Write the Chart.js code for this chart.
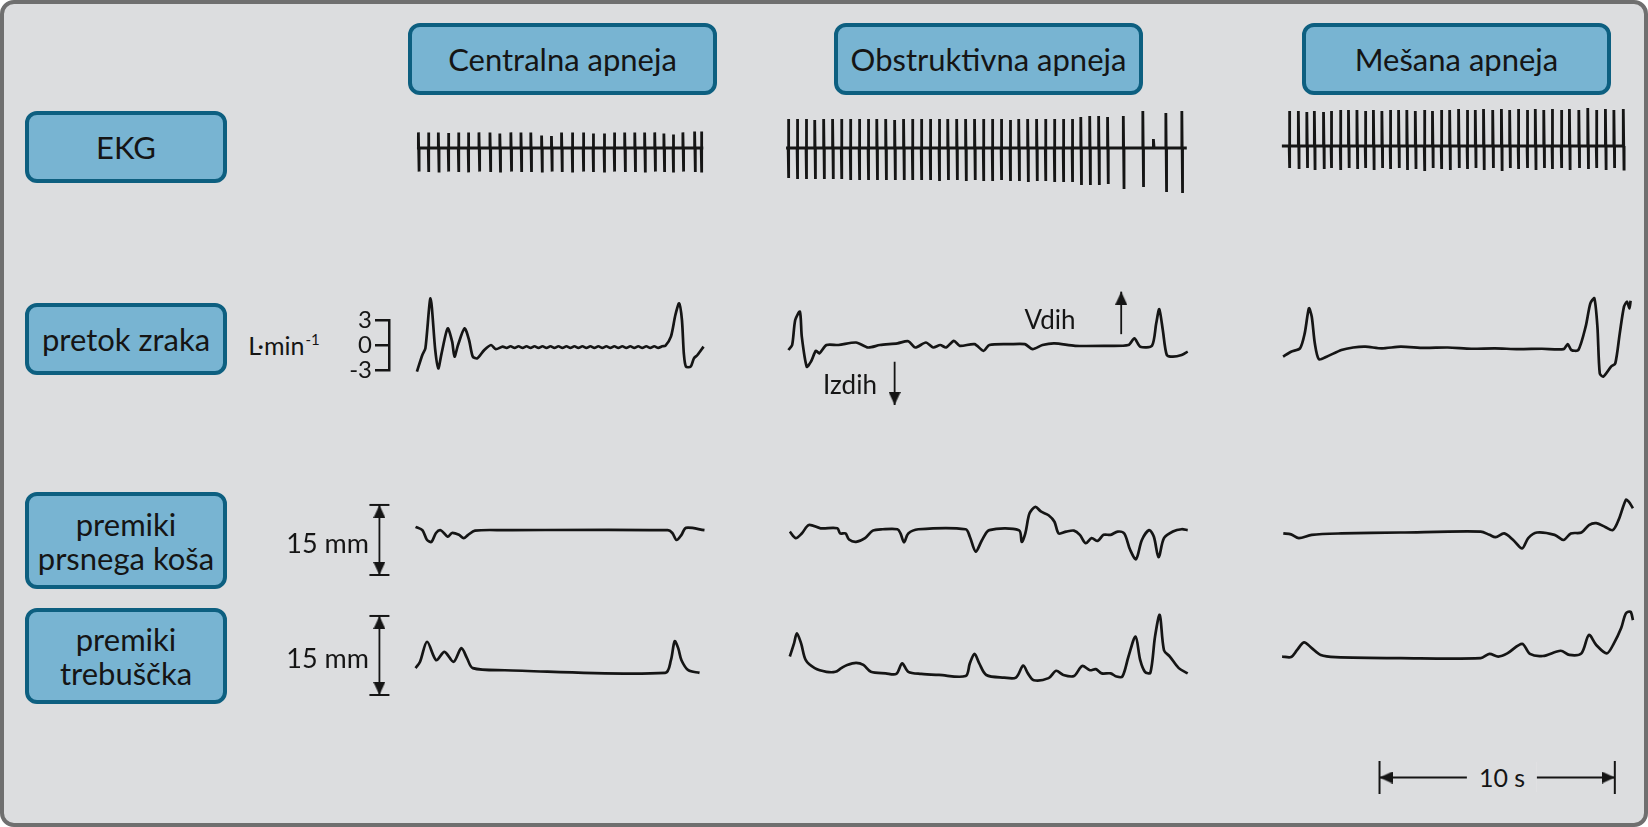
<!DOCTYPE html>
<html>
<head>
<meta charset="utf-8">
<script src="https://cdn.jsdelivr.net/npm/chart.js@4.4.0/dist/chart.umd.min.js"></script>
<style>
    html, body { margin: 0; padding: 0; background: #fff; }
    #stage { position: relative; width: 1648px; height: 827px; overflow: hidden; font-family: Lato, sans-serif; color: #151515; }
    #frame { position: absolute; left: 0; top: 0; width: 1648px; height: 827px; box-sizing: border-box;
             border: 4px solid #6f6f6f; border-radius: 14px; background: #dcdddf; }
    .box { position: absolute; box-sizing: border-box; border: 4px solid #0d5f80; border-radius: 12px;
           background: #78b4d2; display: flex; align-items: center; justify-content: center;
           text-align: center; font-size: 31px; line-height: 34px; }
    .lbl { position: absolute; font-size: 26px; white-space: nowrap; transform: translate(-50%, -50%); }
    .lblR { position: absolute; font-size: 26px; white-space: nowrap; transform: translate(-100%, -50%); }
    canvas { position: absolute; }
</style>
</head>
<body>
<div id="stage">
    <div id="frame"></div>
</div>
<script>
// naslovi
const columnTitles = ['Centralna apneja', 'Obstruktivna apneja', 'Mešana apneja'];
const rowTitles = ['EKG', 'pretok zraka', 'premiki<br>prsnega koša', 'premiki<br>trebuščka'];
const flowTicks = [-3, 0, 3];

// EKG: [čas s, vrh mV, dno mV]
const ekgSpanC = [0, 12.2];
const ekgBeatsC = [[0.06,0.78,-1.18],[0.48,0.78,-1.2],[0.91,0.78,-1.22],[1.33,0.75,-1.18],[1.76,0.78,-1.2],
    [2.18,0.78,-1.22],[2.64,0.78,-1.18],[3.11,0.78,-1.2],[3.53,0.72,-1.22],[4.0,0.78,-1.18],[4.43,0.78,-1.2],
    [4.85,0.78,-1.2],[5.31,0.62,-1.22],[5.73,0.6,-1.18],[6.16,0.78,-1.2],[6.61,0.78,-1.22],[7.08,0.78,-1.18],
    [7.5,0.72,-1.2],[7.97,0.72,-1.22],[8.4,0.78,-1.18],[8.85,0.78,-1.2],[9.28,0.78,-1.2],[9.7,0.78,-1.22],
    [10.13,0.78,-1.18],[10.52,0.72,-1.2],[10.91,0.68,-1.22],[11.33,0.78,-1.18],[11.83,0.82,-1.2],[12.11,0.82,-1.22]];

const ekgSpanO = [0, 17.05];
const ekgBeatsO = [[0.09,1.45,-1.5],[0.47,1.45,-1.55],[0.85,1.45,-1.55],[1.22,1.4,-1.55],[1.6,1.45,-1.55],
    [1.98,1.45,-1.55],[2.35,1.45,-1.55],[2.73,1.45,-1.6],[3.11,1.45,-1.6],[3.49,1.45,-1.6],[3.86,1.45,-1.6],
    [4.24,1.45,-1.6],[4.62,1.4,-1.6],[5.0,1.45,-1.6],[5.37,1.45,-1.6],[5.75,1.45,-1.6],[6.13,1.45,-1.6],
    [6.51,1.45,-1.65],[6.88,1.45,-1.6],[7.26,1.45,-1.6],[7.64,1.45,-1.65],[8.02,1.45,-1.6],[8.39,1.45,-1.65],
    [8.77,1.45,-1.65],[9.15,1.45,-1.6],[9.53,1.4,-1.65],[9.9,1.45,-1.65],[10.28,1.45,-1.7],[10.66,1.45,-1.65],
    [11.03,1.45,-1.65],[11.41,1.45,-1.7],[11.79,1.45,-1.7],[12.17,1.45,-1.7],[12.54,1.55,-1.85],[12.92,1.6,-1.85],
    [13.3,1.6,-1.85],[13.68,1.55,-1.8],[14.35,1.6,-2.05],[15.18,1.85,-1.95],[15.63,0.45,0],[16.16,1.75,-2.2],
    [16.84,1.85,-2.25]];

const ekgSpanM = [-0.05, 14.5];
const ekgBeatsM = [[0.26,1.75,-1.1],[0.65,1.75,-1.15],[1.01,1.7,-1.1],[1.33,1.75,-1.2],[1.72,1.7,-1.15],
    [2.04,1.75,-1.1],[2.43,1.8,-1.2],[2.78,1.8,-1.1],[3.14,1.8,-1.15],[3.49,1.75,-1.1],[3.84,1.8,-1.2],
    [4.2,1.75,-1.1],[4.55,1.8,-1.15],[4.91,1.8,-1.1],[5.26,1.8,-1.2],[5.62,1.75,-1.15],[6.0,1.8,-1.25],
    [6.35,1.75,-1.1],[6.72,1.8,-1.15],[7.08,1.8,-1.2],[7.46,1.85,-1.1],[7.82,1.8,-1.15],[8.17,1.8,-1.1],
    [8.52,1.85,-1.2],[8.91,1.8,-1.1],[9.28,1.85,-1.25],[9.63,1.8,-1.1],[9.99,1.85,-1.15],[10.37,1.8,-1.1],
    [10.72,1.85,-1.2],[11.08,1.8,-1.1],[11.43,1.85,-1.15],[11.82,1.8,-1.1],[12.17,1.85,-1.2],[12.57,1.8,-1.1],
    [12.95,1.9,-1.15],[13.31,1.8,-1.1],[13.7,1.85,-1.2],[14.06,1.8,-1.1],[14.46,1.85,-1.15]];

// pretok zraka [s, L/min]
const flowC = [[0,-3.2],[0.23,-1.2],[0.36,-0.4],[0.58,5.6],[0.78,-0.6],[0.91,-2.8],[1.05,-1.0],[1.31,2.0],
    [1.5,0.4],[1.6,-1.4],[1.75,0.0],[2.03,2.0],[2.22,0.6],[2.38,-1.4],[2.57,-1.6],[2.87,-0.6],[3.16,0.0],
    [3.36,-0.5],[3.65,-0.2],[3.82,-0.35],[3.99,-0.15],[4.16,-0.35],[4.33,-0.15],[4.5,-0.35],[4.67,-0.15],[4.84,-0.35],
    [5.01,-0.15],[5.18,-0.35],[5.35,-0.15],[5.52,-0.35],[5.69,-0.15],[5.86,-0.35],[6.03,-0.15],[6.2,-0.35],[6.37,-0.15],
    [6.54,-0.35],[6.71,-0.15],[6.88,-0.35],[7.05,-0.15],[7.22,-0.35],[7.39,-0.15],[7.56,-0.35],[7.73,-0.15],[7.9,-0.35],
    [8.07,-0.15],[8.24,-0.35],[8.41,-0.15],[8.58,-0.35],[8.75,-0.15],[8.92,-0.35],[9.09,-0.15],[9.26,-0.35],[9.43,-0.15],
    [9.6,-0.35],[9.77,-0.15],[9.94,-0.35],[10.11,-0.15],[10.28,-0.35],[10.45,-0.15],[10.58,-0.1],[10.82,1.0],
    [11.01,3.6],[11.17,5.0],[11.29,3.0],[11.37,-1.0],[11.46,-2.6],[11.66,-2.6],[11.8,-1.6],[11.95,-1.2],[12.21,-0.2]];
const flowO = [[0.1,-0.6],[0.26,0.0],[0.39,3.0],[0.59,4.0],[0.67,1.0],[0.88,-2.6],[1.06,-2.0],[1.27,-0.7],
    [1.42,-1.0],[1.72,0.0],[2.23,0.0],[2.98,0.3],[3.49,-0.3],[3.99,0.0],[4.74,0.2],[5.2,0.45],[5.5,-0.3],
    [5.95,0.3],[6.26,-0.3],[6.56,0.0],[6.81,-0.3],[7.14,0.5],[7.39,-0.1],[8.02,0.1],[8.4,-0.7],[8.65,0.0],
    [9.53,0.1],[10.16,0.1],[10.49,-0.5],[10.91,0.0],[11.42,0.2],[12.3,-0.1],[13.56,-0.1],[14.57,0.0],[14.82,0.8],
    [15.07,-0.2],[15.57,-0.1],[15.75,2.6],[15.88,4.3],[16.03,1.8],[16.2,-1.2],[16.46,-1.4],[16.83,-1.2],[17.09,-0.8]];
const flowM = [[0,-1.4],[0.34,-0.8],[0.72,-0.4],[0.92,1.4],[1.1,4.4],[1.22,3.4],[1.35,0.2],[1.52,-1.7],
    [1.85,-1.4],[2.48,-0.6],[2.98,-0.3],[3.5,-0.2],[4.2,-0.4],[5.0,-0.2],[6.0,-0.35],[7.0,-0.3],[8.0,-0.45],
    [9.0,-0.4],[10.0,-0.5],[11.0,-0.45],[11.92,-0.5],[12.1,0.1],[12.25,-0.6],[12.55,-0.6],[12.86,2.2],
    [13.06,5.0],[13.23,5.6],[13.36,2.2],[13.46,-3.4],[13.61,-3.8],[13.94,-2.6],[14.12,-2.2],[14.31,1.4],
    [14.49,4.6],[14.62,5.2],[14.72,4.4],[14.77,5.3]];

// premiki prsnega koša [s, mm]
const chestC = [[-0.06,10.3],[0.23,9.6],[0.43,7.5],[0.62,7.1],[0.81,9.0],[1.01,9.6],[1.31,8.2],[1.49,9.0],
    [1.79,8.6],[1.99,7.9],[2.18,8.6],[2.47,9.5],[3.74,9.6],[10.68,9.6],[10.88,9.0],[11.06,7.5],[11.27,8.6],
    [11.46,10.1],[12.25,9.6]];
const chestO = [[0.16,9.3],[0.41,7.9],[0.67,8.9],[0.97,10.7],[1.47,10.0],[2.18,10.0],[2.3,8.9],[2.53,8.9],
    [2.68,7.6],[2.98,7.1],[3.36,7.9],[3.69,9.5],[4.11,9.8],[4.74,9.8],[4.87,8.9],[5.02,7.0],[5.2,8.9],[5.63,9.8],
    [7.64,9.8],[7.82,8.2],[8.07,5.0],[8.34,7.5],[8.65,9.6],[9.91,9.6],[10.03,7.1],[10.18,8.9],[10.36,13.2],
    [10.61,14.6],[10.84,13.6],[11.17,12.8],[11.42,11.4],[11.6,8.9],[11.92,9.3],[12.25,9.5],[12.5,8.6],[12.75,6.8],
    [13.0,7.9],[13.26,7.3],[13.51,8.6],[13.81,8.6],[14.11,9.3],[14.39,8.9],[14.64,5.4],[14.89,3.4],[15.14,7.5],
    [15.45,9.6],[15.65,8.2],[15.85,3.8],[16.08,7.9],[16.46,9.3],[16.83,9.8],[17.09,9.6]];
const chestM = [[0.01,8.9],[0.34,8.7],[0.67,7.9],[1.22,8.6],[2.48,8.9],[5.0,9.1],[8.4,9.3],[8.77,8.6],
    [9.03,8.1],[9.4,8.9],[9.78,7.5],[10.16,5.7],[10.42,7.9],[10.79,9.1],[11.54,8.6],[11.92,7.5],[12.23,8.9],
    [12.68,9.1],[13.0,10.7],[13.31,11.1],[13.69,10.3],[14.01,9.6],[14.26,11.8],[14.57,16.1],[14.69,15.7],[14.87,14.3]];

// premiki trebuščka [s, mm]
const bellyC = [[-0.06,5.1],[0.13,6.3],[0.43,10.1],[0.82,6.6],[1.17,8.2],[1.56,6.3],[1.89,8.9],[2.13,7.0],
    [2.38,5.1],[3.74,4.7],[10.58,4.2],[10.82,6.6],[10.98,10.2],[11.13,8.9],[11.27,6.6],[11.56,4.7],[12.04,4.2]];
const bellyO = [[0.16,7.3],[0.34,9.8],[0.46,11.7],[0.64,9.8],[0.84,6.6],[1.22,5.1],[1.72,4.4],[2.1,4.4],
    [2.35,5.1],[2.6,5.7],[2.98,6.1],[3.29,5.7],[3.61,4.4],[4.24,4.1],[4.69,4.0],[4.94,6.0],[5.2,4.4],[5.75,4.0],
    [6.51,3.8],[7.64,3.6],[7.82,6.0],[8.02,7.8],[8.22,6.0],[8.52,3.8],[9.28,3.3],[9.78,3.3],[10.09,5.6],
    [10.29,4.1],[10.54,2.8],[11.17,3.2],[11.49,4.6],[11.8,3.8],[12.25,3.6],[12.6,5.5],[12.93,4.7],[13.18,4.9],
    [13.43,4.1],[13.81,4.1],[14.06,3.5],[14.31,3.5],[14.57,7.3],[14.87,11.1],[15.07,6.6],[15.27,4.4],[15.5,4.2],
    [15.7,11.1],[15.9,15.2],[16.08,8.5],[16.33,7.3],[16.71,5.1],[17.09,4.1]];
const bellyM = [[-0.04,7.3],[0.34,7.2],[0.59,8.5],[0.89,10.0],[1.22,8.9],[1.6,7.6],[2.23,7.2],[5.0,7.0],
    [8.4,7.0],[8.77,7.8],[9.15,7.3],[9.53,7.9],[10.16,9.7],[10.49,7.8],[11.04,7.4],[11.8,8.4],[12.17,7.6],
    [12.68,7.9],[13.0,11.4],[13.31,9.5],[13.76,7.9],[14.06,9.8],[14.37,12.7],[14.57,15.5],[14.77,15.8],[14.87,14.2]];

// merila
const mmBar = [0, 15];       // mm
const timeBar = [4.1, 14.1]; // s (10 s)
const vdihArrow = [1.3, 6.4];
const izdihArrow = [-2.0, -7.2];

const INK = '#151515';
const PX = 23.5;   // px na sekundo
const AXW = 49;
const stage = document.getElementById('stage');
Chart.defaults.font.family = 'Lato';

const cols = {
    C: { x0: 417, tmin: -2.3, tmax: 12.4 },
    O: { x0: 786, tmin: -0.3, tmax: 17.4 },
    M: { x0: 1283, tmin: -0.3, tmax: 15.0 }
};
const rows = {
    ekg:   { top: 95,  height: 110, min: -2.85, max: 2.65 },
    flow:  { top: 280, height: 135, min: -8.4, max: 7.8 },
    chest: { top: 490, height: 95,  min: -2.14, max: 18.2 },
    belly: { top: 600, height: 105, min: -1.9, max: 18.03 },
    bar:   { top: 755, height: 45,  min: -1, max: 1 }
};

// glave puščic (konica v središču)
function arrowHead(len, half) {
    const c = document.createElement('canvas');
    c.width = half * 2; c.height = len * 2;
    const g = c.getContext('2d');
    g.fillStyle = INK;
    g.beginPath(); g.moveTo(half, len); g.lineTo(0, len * 2); g.lineTo(half * 2, len * 2); g.closePath(); g.fill();
    return c;
}
const head = arrowHead(13, 6);

function box(html, x, y, w, h) {
    const d = document.createElement('div');
    d.className = 'box';
    d.style.cssText = `left:${x}px;top:${y}px;width:${w}px;height:${h}px;`;
    d.innerHTML = html;
    stage.appendChild(d);
}
function label(html, x, y, cls, size) {
    const d = document.createElement('div');
    d.className = cls || 'lbl';
    d.style.left = x + 'px'; d.style.top = y + 'px';
    if (size) d.style.fontSize = size + 'px';
    d.innerHTML = html;
    stage.appendChild(d);
    return d;
}

function trace(points, tension) {
    return { data: points.map(p => ({ x: p[0], y: p[1] })), borderColor: INK, borderWidth: 2.7,
             pointRadius: 0, tension: tension, clip: false, fill: false };
}
function ekg(span, beats) {
    const pts = [{ x: span[0], y: 0 }];
    beats.forEach(b => {
        pts.push({ x: b[0], y: 0 }, { x: b[0], y: b[1] }, { x: b[0] + 0.03, y: b[2] }, { x: b[0] + 0.03, y: 0 });
    });
    pts.push({ x: span[1], y: 0 });
    return { data: pts, borderColor: INK, borderWidth: 2.8, pointRadius: 0, tension: 0, clip: false };
}
function vArrow(x, ys, rot) {
    return { data: ys.map(y => ({ x, y })), borderColor: INK, borderWidth: 1.8, pointStyle: head,
             pointRadius: [0, 5], pointRotation: rot, clip: false };
}
function mmScale(x) {
    const pts = mmBar.map(y => ({ x, y }));
    return [
        { data: pts, borderColor: INK, borderWidth: 1.8, pointStyle: head, pointRadius: 5,
          pointRotation: [180, 0], clip: false },
        { data: pts, showLine: false, pointStyle: 'line', pointRadius: 10, pointBorderColor: INK,
          pointBorderWidth: 2, clip: false }
    ];
}

function plot(colKey, rowKey, datasets, over) {
    const c = cols[colKey];
    const r = Object.assign({}, rows[rowKey], over || {});
    const tmin = r.tmin !== undefined ? r.tmin : c.tmin;
    const axw = r.axis ? AXW : 0;
    const left = Math.round(c.x0 + tmin * PX - axw);
    const width = Math.round((c.tmax - tmin) * PX + axw);
    const cv = document.createElement('canvas');
    cv.width = width; cv.height = r.height;
    cv.style.left = left + 'px'; cv.style.top = r.top + 'px';
    stage.appendChild(cv);

    const yScale = r.axis ? {
        display: true, position: 'left', min: r.min, max: r.max,
        afterFit: s => { s.width = AXW; },
        afterBuildTicks: s => { s.ticks = flowTicks.map(v => ({ value: v })); },
        ticks: { color: INK, font: { size: 24 }, padding: 3, autoSkip: false, callback: v => String(v) },
        grid: { drawOnChartArea: false, drawTicks: true, tickLength: 14, color: INK, lineWidth: 2.5 },
        border: { display: true, color: INK, width: 2.5 }
    } : { display: false, min: r.min, max: r.max };

    new Chart(cv.getContext('2d'), {
        type: 'line',
        data: { datasets },
        options: {
            responsive: false,
            animation: false,
            devicePixelRatio: 1,
            events: [],
            layout: { autoPadding: false, padding: { top: r.padTop || 0, bottom: r.padBottom || 0, left: 0, right: 0 } },
            plugins: { legend: { display: false }, tooltip: { enabled: false } },
            scales: {
                x: { type: 'linear', display: false, min: tmin, max: c.tmax },
                y: yScale
            }
        }
    });
}

// okvirji z napisi
box(columnTitles[0], 408, 23, 309, 72);
box(columnTitles[1], 834, 23, 309, 72);
box(columnTitles[2], 1302, 23, 309, 72);
box(rowTitles[0], 25, 111, 202, 72);
box(rowTitles[1], 25, 303, 202, 72);
box(rowTitles[2], 25, 492, 202, 97);
box(rowTitles[3], 25, 608, 202, 96);

// EKG
plot('C', 'ekg', [ekg(ekgSpanC, ekgBeatsC)]);
plot('O', 'ekg', [ekg(ekgSpanO, ekgBeatsO)]);
plot('M', 'ekg', [ekg(ekgSpanM, ekgBeatsM)], { min: -2.95, max: 2.55 });

// pretok zraka
plot('C', 'flow', [trace(flowC, 0.25)], { min: -3, max: 3, padTop: 40, padBottom: 45, axis: true, tmin: -1.19 });
plot('O', 'flow', [trace(flowO, 0.25), vArrow(14.26, vdihArrow, [0, 0]), vArrow(4.62, izdihArrow, [0, 180])]);
plot('M', 'flow', [trace(flowM, 0.25)]);
label('L·min<sup style="font-size:15px;vertical-align:10px;margin-left:1px">-1</sup>', 284, 345, 'lbl', 25);
label('Vdih', 1050, 319);
label('Izdih', 850, 384);

// premiki
plot('C', 'chest', [trace(chestC, 0.3), ...mmScale(-1.6)]);
plot('O', 'chest', [trace(chestO, 0.3)]);
plot('M', 'chest', [trace(chestM, 0.3)]);
plot('C', 'belly', [trace(bellyC, 0.3), ...mmScale(-1.6)]);
plot('O', 'belly', [trace(bellyO, 0.3)]);
plot('M', 'belly', [trace(bellyM, 0.3)]);
label('15 mm', 369, 542, 'lblR', 27);
label('15 mm', 369, 657, 'lblR', 27);

// merilo 10 s
const barPts = timeBar.map(x => ({ x, y: 0 }));
plot('M', 'bar', [
    { data: barPts, borderColor: INK, borderWidth: 1.8, pointStyle: head, pointRadius: 5,
      pointRotation: [270, 90], clip: false },
    { data: barPts, showLine: false, pointStyle: 'line', pointRadius: 16.5, pointRotation: 90,
      pointBorderColor: INK, pointBorderWidth: 2, clip: false }
]);
const ts = label('10 s', 1502, 777, 'lbl', 25);
ts.style.background = '#dcdddf';
ts.style.padding = '0 12px';
</script>
</body>
</html>
